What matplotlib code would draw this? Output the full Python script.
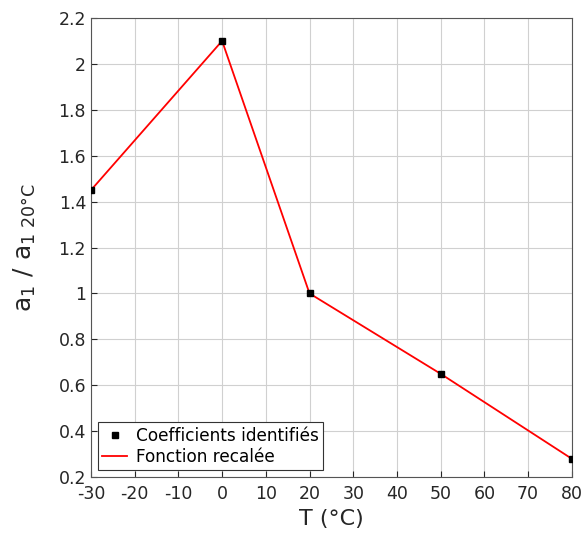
import numpy as np
import matplotlib.pyplot as plt

# identified coefficients (normalised by the 20 degC value)
temps = [-30, 0, 20, 50, 80]
ratios = [1.45, 2.1, 1.0, 0.65, 0.28]

xticks = np.arange(-30, 81, 10)
yticks = np.arange(0.2, 2.21, 0.2)

plt.rcParams['font.family'] = 'DejaVu Sans'
plt.rcParams['axes.unicode_minus'] = False

fig = plt.figure(figsize=(5.87, 5.44), dpi=100)
ax = fig.add_axes([0.155, 0.123, 0.819, 0.844])

ax.plot(temps, ratios, 's', color='black', markersize=5, label='Coefficients identifiés', zorder=3)
ax.plot(temps, ratios, '-', color='red', linewidth=1.3, label='Fonction recalée', zorder=2)

ax.set_xlim(-30, 80)
ax.set_ylim(0.2, 2.2)
ax.set_xticks(xticks)
ax.set_yticks(yticks)
ax.set_yticklabels(['%g' % round(v, 1) for v in yticks])
ax.grid(True, color='#d0d0d0', linewidth=0.8)
ax.set_axisbelow(True)
ax.tick_params(direction='in', length=4, labelsize=12.5, colors='#262626', width=0.8)
ax.tick_params(axis='x', pad=6)
for s in ax.spines.values():
    s.set_color('#555555')

ax.set_xlabel('T (°C)', fontsize=16, color='#262626')
ax.set_ylabel(r'$\mathregular{a_1\ /\ a_{1\ 20°C}}$', fontsize=18, color='#262626')
ax.yaxis.set_label_coords(-0.11, 0.5)

leg = ax.legend(loc='lower left', fontsize=12.2, fancybox=False, framealpha=1,
                edgecolor='#333333', borderaxespad=0.4, handlelength=1.5,
                handletextpad=0.5, borderpad=0.25, labelspacing=0.2)
leg.get_frame().set_linewidth(0.8)

fig.savefig('out.png', dpi=100)
